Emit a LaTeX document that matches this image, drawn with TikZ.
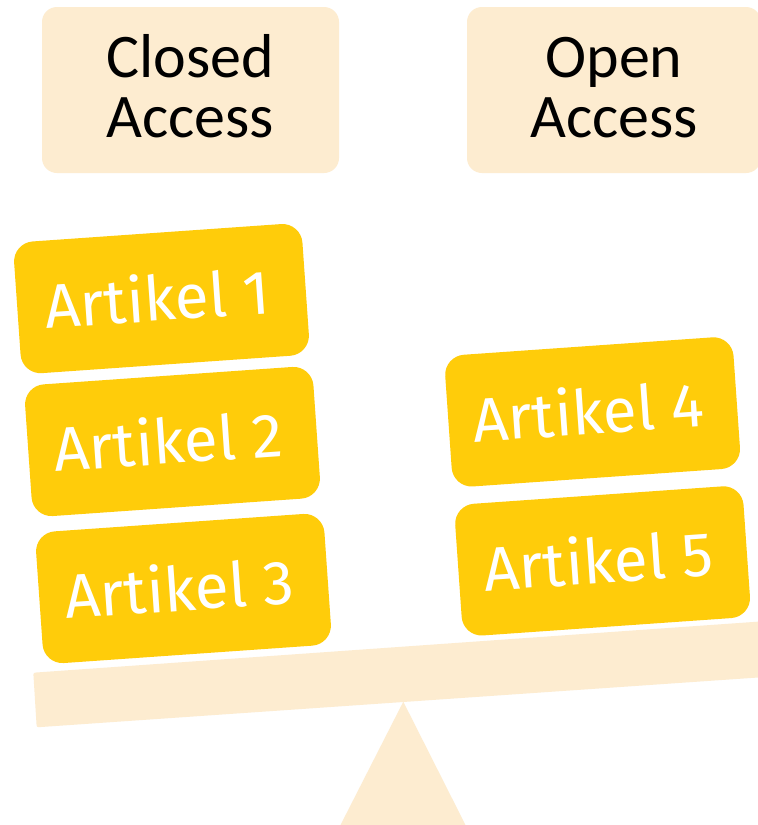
\documentclass[tikz,border=0pt]{standalone}
\usepackage{fontspec}
\newfontfamily\artfont{Fira Sans}
\newfontfamily\titlefont{Carlito}
\definecolor{gold}{RGB}{255,204,10}
\definecolor{peach}{RGB}{253,236,208}
\newcommand\arttext[1]{\raisebox{4pt}{#1}\hspace*{8pt}}
\begin{document}
\begin{tikzpicture}[x=1pt,y=-1pt,
  titlebox/.style={fill=peach,rounded corners=15pt},
  titletext/.style={anchor=base,align=center,text=black,inner sep=0pt,
    font={\titlefont\fontsize{62}{60}\selectfont}},
  artbox/.style={fill=gold,rounded corners=20pt,rotate=4,minimum width=289pt,
    minimum height=132pt,text=white,inner sep=0pt,
    font={\artfont\fontsize{62}{70}\selectfont}},
  scalepart/.style={fill=peach}]
\useasboundingbox (0,0) rectangle (758,825);
\fill[white] (0,0) rectangle (758,825);
\clip (0,0) rectangle (758,825);
% title boxes
\path[titlebox] (42,7) rectangle (339,173);
\path[titlebox] (467,7) rectangle (761,173);
\node[titletext] (closed) at (190,137) {Closed\\Access};
\node[titletext] (open) at (614,137) {Open\\Access};
% seesaw
\fill[scalepart] (403.3,701.7) coordinate (apex) -- (340,826) -- (466,826) -- cycle;
\fill[scalepart,rounded corners=2pt] (33.3,672.7) -- (800,618.7) -- (800,674.6) -- (36.7,727.3) -- cycle;
% articles
\node[artbox] (a1) at (161.5,298.6) {\arttext{Artikel 1}};
\node[artbox] (a2) at (172.5,441.5) {\arttext{Artikel 2}};
\node[artbox] (a3) at (183.5,588.5) {\arttext{Artikel 3}};
\node[artbox] (a4) at (592.6,411.9) {\arttext{Artikel 4}};
\node[artbox] (a5) at (602.6,560.9) {\arttext{Artikel 5}};
\end{tikzpicture}
\end{document}
